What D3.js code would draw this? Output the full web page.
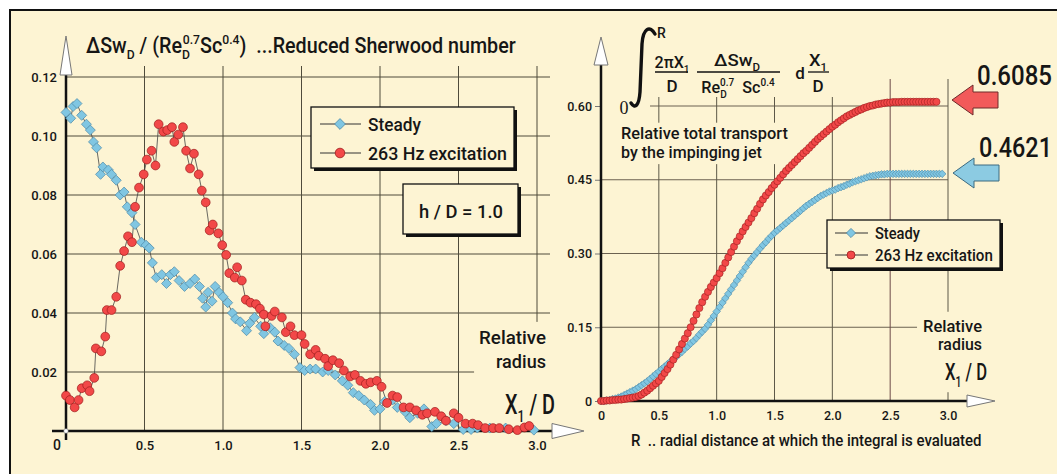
<!DOCTYPE html>
<html>
<head>
<meta charset="utf-8">
<script src="https://cdn.jsdelivr.net/npm/d3@7"></script>
<style>
  body { margin: 0; background: #fff; }
  text { font-family: "Liberation Sans Narrow", "Roboto", sans-serif; font-weight: 500; fill: #161616; white-space: pre; }
</style>
</head>
<body>
<svg id="chart" width="1057" height="474"></svg>
<script>
// ---- data ----
const xTicks = [0, 0.5, 1.0, 1.5, 2.0, 2.5, 3.0];
const leftYTicks = [0.02, 0.04, 0.06, 0.08, 0.10, 0.12];
const rightYTicks = [0, 0.15, 0.30, 0.45, 0.60];

// reduced Sherwood number, steady jet  [X1/D, value]
const leftSteady = [
  [0.00,0.108],[0.03,0.106],[0.045,0.110],[0.07,0.111],[0.10,0.107],[0.13,0.104],[0.155,0.102],[0.175,0.098],
  [0.195,0.096],[0.22,0.087],[0.235,0.0895],[0.27,0.0885],[0.29,0.087],[0.32,0.085],[0.345,0.080],[0.37,0.081],
  [0.39,0.076],[0.42,0.074],[0.44,0.070],[0.48,0.064],[0.51,0.063],[0.53,0.062],[0.55,0.057],[0.575,0.052],
  [0.61,0.053],[0.64,0.050],[0.665,0.053],[0.69,0.054],[0.72,0.051],[0.755,0.049],[0.79,0.050],[0.82,0.0515],
  [0.85,0.049],[0.87,0.045],[0.89,0.042],[0.905,0.047],[0.93,0.044],[0.95,0.049],[0.975,0.047],[1.00,0.0455],
  [1.03,0.0435],[1.06,0.040],[1.08,0.038],[1.11,0.037],[1.15,0.034],[1.17,0.0365],[1.20,0.0385],[1.24,0.0355],
  [1.26,0.033],[1.30,0.035],[1.33,0.0335],[1.35,0.0305],[1.39,0.029],[1.42,0.028],[1.455,0.026],[1.49,0.0215],
  [1.52,0.0205],[1.555,0.021],[1.59,0.021],[1.635,0.020],[1.67,0.0205],[1.715,0.019],[1.76,0.017],[1.795,0.0155],
  [1.83,0.013],[1.865,0.012],[1.90,0.0105],[1.94,0.009],[1.965,0.007],[2.00,0.0075],[2.03,0.010],[2.08,0.0105],
  [2.11,0.008],[2.16,0.0065],[2.19,0.0045],[2.24,0.006],[2.28,0.0075],[2.33,0.0015],[2.36,0.0025],[2.42,0.0035],
  [2.47,0.0025],[2.53,0.0005],[2.58,0.0005],[2.62,0.001],[2.70,0.001],[2.80,0.001],[2.98,0.0003]
];
// reduced Sherwood number, 263 Hz excitation
const leftExcited = [
  [0.00,0.012],[0.025,0.0105],[0.055,0.008],[0.08,0.0105],[0.10,0.0145],[0.135,0.0155],[0.15,0.0135],[0.18,0.018],
  [0.19,0.028],[0.225,0.027],[0.25,0.032],[0.26,0.041],[0.29,0.041],[0.32,0.0455],[0.345,0.056],[0.37,0.061],
  [0.395,0.066],[0.42,0.064],[0.44,0.076],[0.465,0.0825],[0.495,0.087],[0.515,0.092],[0.545,0.095],[0.57,0.090],
  [0.59,0.104],[0.62,0.1015],[0.645,0.102],[0.675,0.103],[0.69,0.098],[0.715,0.1005],[0.745,0.103],[0.765,0.095],
  [0.79,0.089],[0.815,0.094],[0.845,0.087],[0.865,0.0815],[0.89,0.0775],[0.915,0.068],[0.935,0.070],[0.97,0.067],
  [0.995,0.063],[1.02,0.0597],[1.04,0.0535],[1.075,0.052],[1.09,0.0555],[1.12,0.051],[1.145,0.0445],[1.175,0.0435],
  [1.21,0.043],[1.235,0.0415],[1.26,0.0395],[1.27,0.0355],[1.31,0.039],[1.33,0.0405],[1.375,0.0385],[1.40,0.0335],
  [1.43,0.0355],[1.455,0.0325],[1.50,0.0325],[1.52,0.0295],[1.555,0.026],[1.59,0.0275],[1.61,0.0255],[1.65,0.0245],
  [1.67,0.022],[1.70,0.024],[1.74,0.023],[1.77,0.0205],[1.81,0.0185],[1.84,0.019],[1.875,0.017],[1.91,0.016],
  [1.94,0.0165],[1.98,0.017],[2.01,0.015],[2.045,0.0095],[2.08,0.012],[2.11,0.0115],[2.15,0.008],[2.19,0.008],
  [2.23,0.007],[2.27,0.0055],[2.30,0.006],[2.35,0.0065],[2.39,0.005],[2.42,0.0035],[2.47,0.006],[2.50,0.0045],
  [2.545,0.0025],[2.59,0.0025],[2.625,0.002],[2.67,0.001],[2.72,0.001],[2.76,0.001],[2.82,0.0006],[2.875,0.0003],
  [2.92,0.0012],[2.95,0.0017]
];

// integrated transport, sampled every rStep of R
const rStep = 0.025;
const cumExcited = [
  0.000,0.000,0.001,0.001,0.002,0.002,0.003,0.003,0.004,0.005,
  0.006,0.007,0.008,0.010,0.013,0.017,0.021,0.026,0.031,0.036,
  0.041,0.049,0.057,0.065,0.074,0.084,0.094,0.105,0.116,0.127,
  0.138,0.150,0.163,0.176,0.189,0.201,0.212,0.222,0.232,0.241,
  0.250,0.260,0.270,0.281,0.292,0.303,0.314,0.325,0.335,0.345,
  0.354,0.363,0.372,0.382,0.391,0.401,0.410,0.418,0.425,0.433,
  0.440,0.447,0.454,0.461,0.468,0.474,0.480,0.486,0.492,0.498,
  0.504,0.509,0.515,0.521,0.527,0.533,0.538,0.543,0.548,0.553,
  0.558,0.562,0.567,0.571,0.575,0.579,0.582,0.585,0.588,0.591,
  0.593,0.596,0.598,0.600,0.601,0.603,0.604,0.605,0.606,0.607,
  0.607,0.608,0.608,0.608,0.6085,0.6085,0.6085,0.6085,0.6085,0.6085,
  0.6085,0.6085,0.6085,0.6085,0.6085,0.6085,0.6085
];
const cumSteady = [
  0.000,0.000,0.001,0.002,0.004,0.005,0.007,0.009,0.012,0.015,
  0.018,0.021,0.024,0.028,0.032,0.036,0.040,0.045,0.050,0.055,
  0.060,0.065,0.070,0.075,0.080,0.085,0.090,0.095,0.100,0.106,
  0.111,0.117,0.122,0.128,0.135,0.141,0.147,0.155,0.164,0.173,
  0.182,0.191,0.200,0.209,0.218,0.227,0.236,0.245,0.254,0.263,
  0.272,0.281,0.289,0.296,0.303,0.310,0.317,0.323,0.330,0.336,
  0.342,0.347,0.352,0.357,0.362,0.367,0.372,0.377,0.382,0.387,
  0.392,0.397,0.401,0.405,0.409,0.413,0.417,0.420,0.423,0.426,
  0.428,0.430,0.433,0.435,0.437,0.440,0.442,0.445,0.447,0.449,
  0.451,0.453,0.455,0.457,0.458,0.459,0.460,0.461,0.461,0.462,
  0.462,0.462,0.462,0.462,0.462,0.462,0.462,0.462,0.462,0.462,
  0.462,0.462,0.462,0.462,0.462,0.462,0.462,0.462,0.462
];
const totals = ["0.6085", "0.4621"];

// ---- drawing ----
const cream = "#fdf4d3";
const gridCol = "#4f4b3b";
const blueFill = "#80c6e2", blueStroke = "#4c88a6";
const redFill = "#f24848", redStroke = "#9c1d1d";

const svg = d3.select("#chart");
svg.append("rect").attr("x", 10).attr("y", 10).attr("width", 1100).attr("height", 500)
  .attr("fill", cream).attr("stroke", "#111").attr("stroke-width", 2);

const xL = d3.scaleLinear().domain([0, 3]).range([66, 537]);
const yL = d3.scaleLinear().domain([0, 0.12]).range([431, 77]);
const xR = d3.scaleLinear().domain([0, 3]).range([601, 948]);
const yR = d3.scaleLinear().domain([0, 0.6]).range([401, 106]);

const diamond = s => `M0,${-s}L${s},0L0,${s}L${-s},0Z`;

// rich text helper: parts = [string, "sub"|"sup"|null, dx]
function rich(t, parts, size) {
  let off = 0;
  parts.forEach(([s, kind, dx]) => {
    const target = kind === "sub" ? size * 0.28 : kind === "sup" ? -size * 0.42 : 0;
    const ts = t.append("tspan").attr("dy", target - off)
      .style("font-size", (kind ? size * 0.62 : size) + "px").text(s);
    if (dx) ts.attr("dx", dx);
    off = target;
  });
}

// text block; optionally squeezed to a width and backed by cream
function label(parent, x, y, anchor, size, content, width, bg) {
  const g = parent.append("g");
  const t = g.append("text").attr("x", x).attr("y", y).attr("text-anchor", anchor).style("font-size", size + "px");
  if (typeof content === "string") t.text(content); else rich(t, content, size);
  if (width) {
    const k = width / t.node().getComputedTextLength();
    g.attr("transform", `translate(${x},0) scale(${k},1) translate(${-x},0)`);
  }
  if (bg) {
    const b = t.node().getBBox();
    g.insert("rect", "text").attr("x", b.x - bg).attr("y", b.y - bg)
      .attr("width", b.width + 2 * bg).attr("height", b.height + 2 * bg).attr("fill", cream);
  }
  return g;
}

function box(parent, x, y, w, h) {
  parent.append("rect").attr("x", x + 3).attr("y", y + 3).attr("width", w).attr("height", h).attr("fill", "#111");
  parent.append("rect").attr("x", x).attr("y", y).attr("width", w).attr("height", h)
    .attr("fill", cream).attr("stroke", "#111").attr("stroke-width", 1.3);
}

function legendRows(parent, x0, x1, xm, tx, rows, size, widths, ms) {
  rows.forEach((r, i) => {
    parent.append("line").attr("x1", x0).attr("x2", x1).attr("y1", r.y).attr("y2", r.y)
      .attr("stroke", "#333").attr("stroke-width", 1);
    if (r.kind === "d") parent.append("path").attr("d", diamond(ms + 0.6)).attr("transform", `translate(${xm},${r.y})`)
      .attr("fill", blueFill).attr("stroke", blueStroke).attr("stroke-width", 0.8);
    else parent.append("circle").attr("cx", xm).attr("cy", r.y).attr("r", ms)
      .attr("fill", redFill).attr("stroke", redStroke).attr("stroke-width", 0.8);
    label(parent, tx, r.y + size * 0.36, "start", size, r.text, widths[i]);
  });
}

// ===== LEFT PANEL =====
const L = svg.append("g");
L.append("g").selectAll("line").data(leftYTicks).join("line")
  .attr("x1", xL(0)).attr("x2", 550).attr("y1", d => yL(d)).attr("y2", d => yL(d))
  .attr("stroke", gridCol).attr("stroke-width", 1);
L.append("g").selectAll("line").data(xTicks.slice(1)).join("line")
  .attr("x1", d => xL(d)).attr("x2", d => xL(d)).attr("y1", 66).attr("y2", yL(0))
  .attr("stroke", gridCol).attr("stroke-width", 1);

// axes labels through d3 axes
const ayL = L.append("g").attr("transform", `translate(${xL(0)},0)`)
  .call(d3.axisLeft(yL).tickValues(leftYTicks).tickSize(0).tickPadding(9).tickFormat(d3.format(".2f")));
const axL = L.append("g").attr("transform", `translate(0,${yL(0)})`)
  .call(d3.axisBottom(xL).tickValues(xTicks.slice(1)).tickSize(0).tickPadding(10).tickFormat(d3.format(".1f")));
[ayL, axL].forEach(a => { a.select(".domain").remove(); a.selectAll("text").style("font-size", "13px").attr("fill", "#161616").style("font-family", null); });
L.append("text").attr("x", 57).attr("y", 450).attr("text-anchor", "middle").style("font-size", "14px").text("0");

// labels that sit over the grid
label(L, 86, 53, "start", 22, [["ΔSw"], ["D", "sub"], [" / (Re"], ["D", "sub"], ["0.7", "sup", -8], ["Sc"], ["0.4", "sup"], [")  ...Reduced Sherwood number"]], 437);
const rl = L.append("g");
label(rl, 546, 344, "end", 19, "Relative", 67);
label(rl, 546, 368, "end", 19, "radius", 50);
label(rl, 555, 414, "end", 28, [["X"], ["1", "sub"], [" / D"]], 50);
const rb = rl.node().getBBox();
rl.insert("rect", "g").attr("x", rb.x - 5).attr("y", rb.y - 4).attr("width", rb.width + 10).attr("height", rb.height + 8).attr("fill", cream);

// axes
L.append("line").attr("x1", xL(0)).attr("x2", xL(0)).attr("y1", 440).attr("y2", 75).attr("stroke", "#111").attr("stroke-width", 2.5);
L.append("polygon").attr("points", "66,36 60,75 72,75").attr("fill", "#fff").attr("stroke", "#777");
L.append("line").attr("x1", 52).attr("x2", 552).attr("y1", yL(0)).attr("y2", yL(0)).attr("stroke", "#111").attr("stroke-width", 2.5);
L.append("polygon").attr("points", "552,423.5 584,431 552,438.5").attr("fill", "#fff").attr("stroke", "#777");
L.append("circle").attr("cx", xL(0)).attr("cy", yL(0)).attr("r", 2.2).attr("fill", "#fff").attr("stroke", "#999").attr("stroke-width", 0.6);

// series
const lineL = d3.line().x(d => xL(d[0])).y(d => yL(d[1]));
L.append("path").datum(leftSteady).attr("d", lineL).attr("fill", "none").attr("stroke", "#444").attr("stroke-width", 0.8);
L.append("path").datum(leftExcited).attr("d", lineL).attr("fill", "none").attr("stroke", "#444").attr("stroke-width", 0.8);
L.append("g").selectAll("path").data(leftSteady).join("path")
  .attr("d", diamond(5)).attr("transform", d => `translate(${xL(d[0])},${yL(d[1])})`)
  .attr("fill", blueFill).attr("stroke", blueStroke).attr("stroke-width", 0.7);
L.append("g").selectAll("circle").data(leftExcited).join("circle")
  .attr("cx", d => xL(d[0])).attr("cy", d => yL(d[1])).attr("r", 4.4)
  .attr("fill", redFill).attr("stroke", redStroke).attr("stroke-width", 0.7);

// legend + h/D box
box(L, 311, 107, 203, 61);
legendRows(L, 320, 361, 340, 368, [
  { y: 124, kind: "d", text: "Steady" },
  { y: 153, kind: "c", text: "263 Hz excitation" }
], 19, [53, 139], 4.8);
box(L, 403, 184, 115, 50);
label(L, 461, 218, "middle", 19, "h / D = 1.0", 84);

// ===== RIGHT PANEL =====
const R = svg.append("g");
const rx = d => rStep * d;
R.append("g").selectAll("line").data(rightYTicks.slice(1)).join("line")
  .attr("x1", d => d === 0.6 ? 650 : xR(0)).attr("x2", xR(3)).attr("y1", d => yR(d)).attr("y2", d => yR(d))
  .attr("stroke", "#6b6150").attr("stroke-width", 1);
R.append("g").selectAll("line").data(xTicks.slice(1)).join("line")
  .attr("x1", d => xR(d)).attr("x2", d => xR(d)).attr("y1", d => d >= 2.5 ? 79 : 97).attr("y2", yR(0))
  .attr("stroke", d => d === 2.5 ? "#6d4a48" : "#5d5848").attr("stroke-width", 1);

const ayR = R.append("g").attr("transform", `translate(${xR(0)},0)`)
  .call(d3.axisLeft(yR).tickValues(rightYTicks).tickSize(6).tickPadding(3).tickFormat(d => d === 0 ? "0" : d3.format(".2f")(d)));
const axR = R.append("g").attr("transform", `translate(0,${yR(0)})`)
  .call(d3.axisBottom(xR).tickValues(xTicks).tickSize(0).tickPadding(10).tickFormat(d => d === 0 ? "0" : d3.format(".1f")(d)));
[ayR, axR].forEach(a => { a.select(".domain").remove(); a.selectAll("text").style("font-size", "12.5px").attr("fill", "#161616").style("font-family", null); });
ayR.selectAll("line").attr("stroke", "#777");

// integral formula
const F = R.append("g");
F.append("path").attr("d", "M655,34 C650,25 643,28 642,44 L640,92 C639,106 635,109 631,103")
  .attr("fill", "none").attr("stroke", "#111").attr("stroke-width", 3.4).attr("stroke-linecap", "round");
label(F, 657, 38, "start", 14, "R");
F.append("text").attr("x", 624).attr("y", 114).attr("text-anchor", "middle")
  .style("font-family", "Liberation Serif, serif").style("font-weight", "normal").style("font-size", "18px").text("0");
label(F, 672, 68, "middle", 17, [["2πX"], ["1", "sub"]], 35);
F.append("line").attr("x1", 655).attr("x2", 688).attr("y1", 72).attr("y2", 72).attr("stroke", "#111").attr("stroke-width", 1.3);
label(F, 672, 92, "middle", 17, "D");
label(F, 737, 66, "middle", 17, [["ΔSw"], ["D", "sub"]], 46);
F.append("line").attr("x1", 697).attr("x2", 780).attr("y1", 72).attr("y2", 72).attr("stroke", "#111").attr("stroke-width", 1.3);
label(F, 738, 93, "middle", 17, [["Re"], ["D", "sub"], ["0.7", "sup", -7], ["  Sc"], ["0.4", "sup"]], 80);
label(F, 800, 79, "middle", 17, "d");
label(F, 818, 66, "middle", 17, [["X"], ["1", "sub"]], 18);
F.append("line").attr("x1", 808).attr("x2", 829).attr("y1", 72).attr("y2", 72).attr("stroke", "#111").attr("stroke-width", 1.3);
label(F, 818, 92, "middle", 17, "D");

const tt = R.append("g");
label(tt, 621, 139, "start", 17, "Relative total transport", 167);
label(tt, 621, 158, "start", 17, "by the impinging jet", 141);
const tb = tt.node().getBBox();
tt.insert("rect", "g").attr("x", tb.x - 3).attr("y", tb.y - 1).attr("width", tb.width + 6).attr("height", tb.height + 3).attr("fill", cream);

const rr = R.append("g");
label(rr, 982, 332, "end", 17, "Relative", 59);
label(rr, 982, 350, "end", 17, "radius", 44);
label(rr, 987, 380, "end", 24, [["X"], ["1", "sub"], [" / D"]], 42);
const rrb = rr.node().getBBox();
rr.insert("rect", "g").attr("x", rrb.x - 6).attr("y", rrb.y - 4).attr("width", rrb.width + 12).attr("height", rrb.height + 6).attr("fill", cream);

label(R, 631, 446, "start", 17, "R  .. radial distance at which the integral is evaluated", 351);

// axes
R.append("line").attr("x1", xR(0)).attr("x2", xR(0)).attr("y1", yR(0)).attr("y2", 65).attr("stroke", "#111").attr("stroke-width", 2.5);
R.append("polygon").attr("points", "601,37 594,65 608,65").attr("fill", "#fff").attr("stroke", "#777");
R.append("line").attr("x1", xR(0)).attr("x2", 967).attr("y1", yR(0)).attr("y2", yR(0)).attr("stroke", "#111").attr("stroke-width", 2.5);
R.append("polygon").attr("points", "967,395 995,401 967,407").attr("fill", "#fff").attr("stroke", "#777");

// series
const lineR = d3.line().x((d, i) => xR(rx(i))).y(d => yR(d));
R.append("path").datum(cumSteady).attr("d", lineR).attr("fill", "none").attr("stroke", "#444").attr("stroke-width", 0.8);
R.append("g").selectAll("path").data(cumSteady).join("path")
  .attr("d", diamond(3.8)).attr("transform", (d, i) => `translate(${xR(rx(i))},${yR(d)})`)
  .attr("fill", blueFill).attr("stroke", blueStroke).attr("stroke-width", 0.6);
R.append("path").datum(cumExcited).attr("d", lineR).attr("fill", "none").attr("stroke", "#444").attr("stroke-width", 0.8);
R.append("g").selectAll("circle").data(cumExcited).join("circle")
  .attr("cx", (d, i) => xR(rx(i))).attr("cy", d => yR(d)).attr("r", 3.6)
  .attr("fill", redFill).attr("stroke", redStroke).attr("stroke-width", 0.6);

// legend
box(R, 827, 220, 173, 48);
legendRows(R, 835, 868, 851, 875, [
  { y: 233, kind: "d", text: "Steady" },
  { y: 255, kind: "c", text: "263 Hz excitation" }
], 16, [45, 118], 4);

// total arrows
const arrow = (tipX, y, endX) =>
  `${tipX},${y} ${tipX + 21},${y - 15} ${tipX + 21},${y - 8} ${endX},${y - 8} ${endX},${y + 8} ${tipX + 21},${y + 8} ${tipX + 21},${y + 15}`;
R.append("polygon").attr("points", arrow(952, 100, 998)).attr("fill", "#f25a5a").attr("stroke", "#6e2a2a").attr("stroke-width", 1);
R.append("polygon").attr("points", arrow(953, 173, 999)).attr("fill", "#8ccbe2").attr("stroke", "#3c6a80").attr("stroke-width", 1);
label(R, 977, 85, "start", 27, totals[0], 75);
label(R, 979, 157, "start", 27, totals[1], 73);
</script>
</body>
</html>
